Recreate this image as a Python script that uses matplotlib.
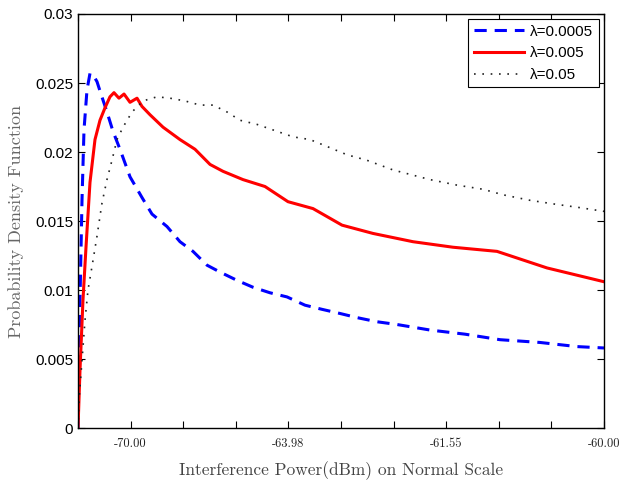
import matplotlib
matplotlib.use("Agg")
import matplotlib.pyplot as plt

# x in units of 1e-7 mW (normal scale), y = pdf
x_a = [0, 0.038, 0.076, 0.114, 0.171, 0.228, 0.285, 0.361, 0.437, 0.551, 0.665, 0.798, 0.989,
       1.217, 1.407, 1.692, 1.939, 2.186, 2.452, 2.700, 3.023, 3.327, 3.650, 3.973, 4.316,
       4.639, 4.981, 5.304, 5.684, 6.065, 6.692, 7.357, 8.023, 8.783, 9.487, 10.0]
y_a = [0, 0.0093, 0.0165, 0.0216, 0.0245, 0.0257, 0.0256, 0.0251, 0.0242, 0.0229, 0.0215, 0.0202,
       0.0182, 0.0167, 0.0155, 0.0146, 0.0135, 0.0128, 0.0118, 0.0113, 0.0107, 0.0102, 0.0098,
       0.0095, 0.0089, 0.0086, 0.0083, 0.0080, 0.0077, 0.0075, 0.0071, 0.0068, 0.0064, 0.0062,
       0.0059, 0.0058]

x_b = [0, 0.038, 0.095, 0.152, 0.228, 0.323, 0.418, 0.513, 0.608, 0.684, 0.779, 0.875, 0.989,
       1.122, 1.217, 1.369, 1.616, 1.939, 2.224, 2.510, 2.757, 3.137, 3.555, 3.992, 4.468,
       5.019, 5.608, 6.369, 7.129, 7.966, 8.916, 10.0]
y_b = [0, 0.0042, 0.0093, 0.0131, 0.0178, 0.0209, 0.0223, 0.0232, 0.0240, 0.0243, 0.0239,
       0.0242, 0.0236, 0.0239, 0.0233, 0.0227, 0.0218, 0.0209, 0.0202, 0.0191, 0.0186, 0.0180,
       0.0175, 0.0164, 0.0159, 0.0147, 0.0141, 0.0135, 0.0131, 0.0128, 0.0116, 0.0106]

x_c = [0, 0.019, 0.076, 0.133, 0.190, 0.266, 0.361, 0.456, 0.551, 0.646, 0.741, 0.856, 1.027,
       1.236, 1.502, 1.749, 2.034, 2.319, 2.567, 2.833, 3.080, 3.403, 3.783, 4.087, 4.411,
       4.734, 5.114, 5.494, 5.989, 6.692, 7.205, 7.700, 8.080, 8.593, 9.106, 9.487, 10.0]
y_c = [0, 0.0020, 0.0049, 0.0078, 0.0100, 0.0117, 0.0139, 0.0163, 0.0180, 0.0194, 0.0209,
       0.0218, 0.0229, 0.0237, 0.0240, 0.0239, 0.0237, 0.0234, 0.0234, 0.0229, 0.0223, 0.0220,
       0.0215, 0.0211, 0.0209, 0.0204, 0.0198, 0.0194, 0.0187, 0.0180, 0.0176, 0.0173, 0.0169,
       0.0165, 0.0162, 0.0160, 0.0157]

labels = ["\u03bb=0.0005", "\u03bb=0.005", "\u03bb=0.05"]
xtick_pos = list(range(11))
xtick_lab = ["", "-70.00", "", "", "-63.98", "", "", "-61.55", "", "", "-60.00"]
yticks = [0, 0.005, 0.01, 0.015, 0.02, 0.025, 0.03]
ytick_lab = ["0", "0.005", "0.01", "0.015", "0.02", "0.025", "0.03"]

fig = plt.figure(figsize=(6.25, 4.86), dpi=100)
ax = fig.add_axes([0.1248, 0.1193, 0.8416, 0.8519])

ax.plot(x_a, y_a, color="blue", lw=2.2, linestyle=(0, (4, 2.6)), label=labels[0])
ax.plot(x_b, y_b, color="red", lw=2.2, label=labels[1])
ax.plot(x_c, y_c, color="#222222", lw=1.2, linestyle=(0, (1, 4)), label=labels[2])

ax.set_xlim(0, 10)
ax.set_ylim(0, 0.03)
ax.set_xticks(xtick_pos)
ax.set_xticklabels(xtick_lab, family="cmr10", fontsize=9, color="#222222")
ax.set_yticks(yticks)
ax.set_yticklabels(ytick_lab, family="Liberation Sans", fontsize=11)
ax.tick_params(direction="in", top=True, right=True, length=5, width=0.8)
ax.tick_params(axis="x", pad=7)
for s in ax.spines.values():
    s.set_linewidth(1.0)

ax.set_xlabel("Interference Power(dBm) on Normal Scale", family="cmr10", fontsize=12.5,
              color="#444444", labelpad=8)
ax.set_ylabel("Probability Density Function", family="cmr10", fontsize=13,
              color="#666666", labelpad=8)

leg = ax.legend(loc="upper right", prop={"family": "Liberation Sans", "size": 11},
                fancybox=False, framealpha=1, edgecolor="black", handlelength=3.3,
                borderaxespad=0.35, labelspacing=0.5, handletextpad=0.4, borderpad=0.35)
leg.get_frame().set_linewidth(0.8)

fig.savefig("out.png", dpi=100)
